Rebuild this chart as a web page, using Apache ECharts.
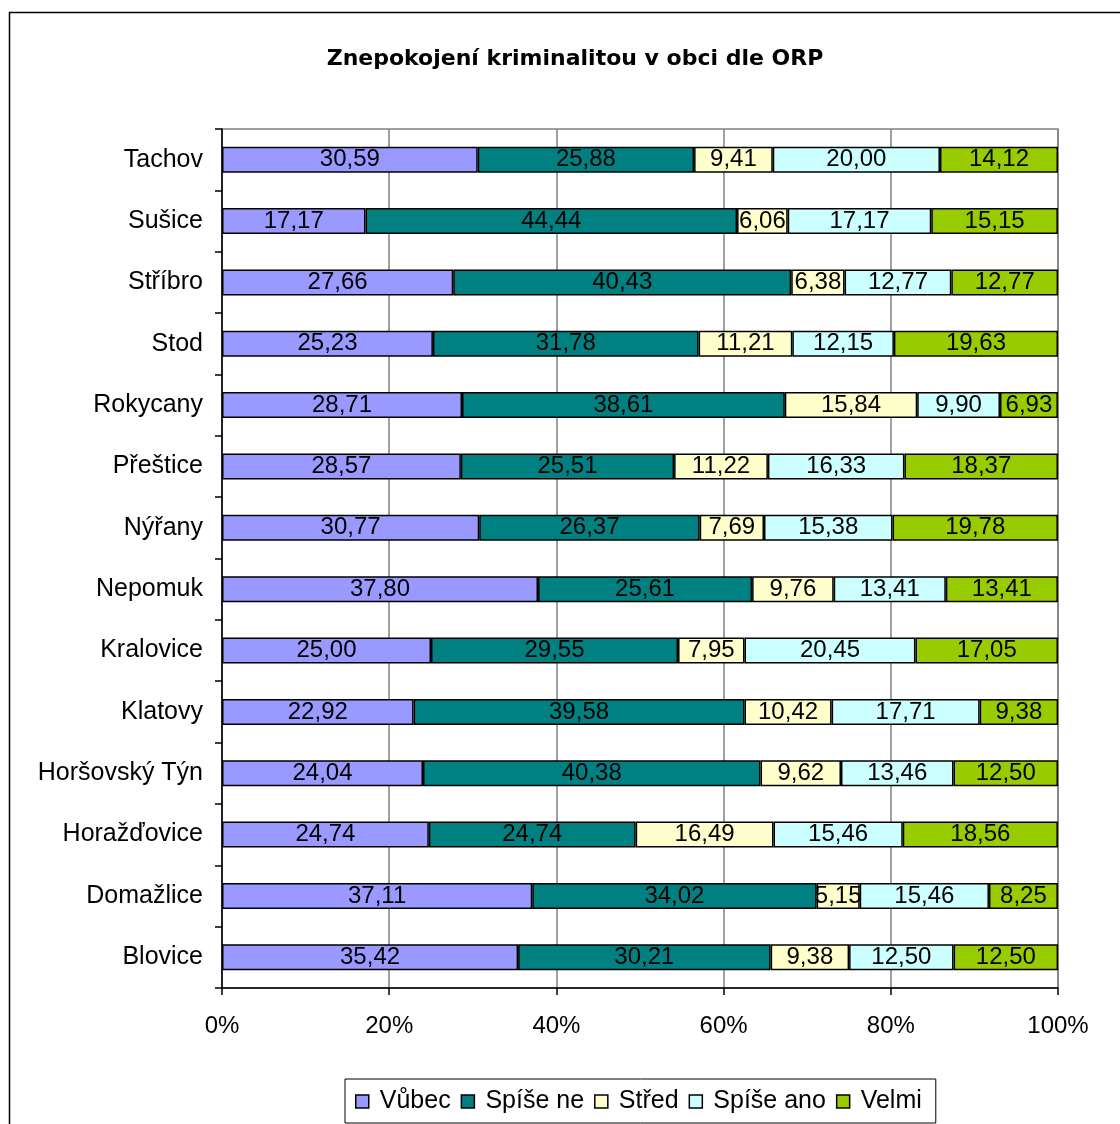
<!DOCTYPE html>
<html>
<head>
<meta charset="utf-8">
<script src="https://cdn.jsdelivr.net/npm/echarts@6/dist/echarts.min.js"></script>
<style>
  html, body { margin: 0; padding: 0; background: #fff; }
  #chart { width: 1120px; height: 1124px; }
</style>
</head>
<body>
<div id="chart"></div>
<script>
// categories, bottom to top
var places = ['Blovice', 'Domažlice', 'Horažďovice', 'Horšovský Týn', 'Klatovy', 'Kralovice', 'Nepomuk',
  'Nýřany', 'Přeštice', 'Rokycany', 'Stod', 'Stříbro', 'Sušice', 'Tachov'];

var vubec    = [35.42, 37.11, 24.74, 24.04, 22.92, 25.00, 37.80, 30.77, 28.57, 28.71, 25.23, 27.66, 17.17, 30.59];
var spiseNe  = [30.21, 34.02, 24.74, 40.38, 39.58, 29.55, 25.61, 26.37, 25.51, 38.61, 31.78, 40.43, 44.44, 25.88];
var stred    = [9.38, 5.15, 16.49, 9.62, 10.42, 7.95, 9.76, 7.69, 11.22, 15.84, 11.21, 6.38, 6.06, 9.41];
var spiseAno = [12.50, 15.46, 15.46, 13.46, 17.71, 20.45, 13.41, 15.38, 16.33, 9.90, 12.15, 12.77, 17.17, 20.00];
var velmi    = [12.50, 8.25, 18.56, 12.50, 9.38, 17.05, 13.41, 19.78, 18.37, 6.93, 19.63, 12.77, 15.15, 14.12];

var seriesNames = ['Vůbec', 'Spíše ne', 'Střed', 'Spíše ano', 'Velmi'];
var seriesData = [vubec, spiseNe, stred, spiseAno, velmi];
var colors = ['#9999FF', '#008080', '#FFFFCC', '#CCFFFF', '#99CC00'];

var font = 'Liberation Sans, Arial, sans-serif';

var series = seriesNames.map(function (name, i) {
  return {
    name: name,
    type: 'bar',
    stack: 'all',
    barWidth: 26,
    data: seriesData[i],
    itemStyle: { color: colors[i], borderColor: '#000', borderWidth: 1.5 },
    label: {
      show: true,
      position: 'inside',
      color: '#000',
      fontFamily: font,
      fontSize: 24,
      formatter: function (p) { return p.value.toFixed(2).replace('.', ','); }
    }
  };
});

var chart = echarts.init(document.getElementById('chart'));
chart.setOption({
  animation: false,
  title: {
    text: 'Znepokojení kriminalitou v obci dle ORP',
    left: 570,
    textAlign: 'center',
    top: 43,
    textStyle: { fontFamily: 'DejaVu Sans', fontSize: 22, fontWeight: 'bold', color: '#000' }
  },
  graphic: [{
    type: 'rect',
    shape: { x: 9.5, y: 12.5, width: 1300, height: 1300 },
    style: { fill: null, stroke: '#000', lineWidth: 1.5 },
    silent: true
  }],
  legend: {
    bottom: 1,
    left: 345,
    data: seriesNames,
    icon: 'rect',
    itemWidth: 13,
    itemHeight: 13,
    itemGap: 10,
    padding: [10, 14, 9, 10],
    borderColor: '#000',
    borderWidth: 1,
    itemStyle: { borderColor: '#000', borderWidth: 1.5 },
    textStyle: { fontFamily: font, fontSize: 25, color: '#000', padding: [0, 0, 0, 6] }
  },
  grid: {
    left: 222,
    right: 62,
    top: 129,
    bottom: 136,
    show: true,
    borderColor: '#808080',
    borderWidth: 1.5
  },
  xAxis: {
    type: 'value',
    min: 0,
    max: 100,
    interval: 20,
    axisLine: { show: true, lineStyle: { color: '#000', width: 1.5 } },
    axisTick: { show: true, length: 7, lineStyle: { color: '#000', width: 1.5 } },
    splitLine: { show: true, lineStyle: { color: '#808080', width: 1.5 } },
    axisLabel: {
      formatter: '{value}%',
      margin: 26,
      color: '#000',
      fontFamily: font,
      fontSize: 24
    }
  },
  yAxis: {
    type: 'category',
    data: places,
    axisLine: { show: true, lineStyle: { color: '#000', width: 1.5 } },
    axisTick: { show: true, length: 7, lineStyle: { color: '#000', width: 1.5 } },
    axisLabel: { margin: 19, color: '#000', fontFamily: font, fontSize: 25 }
  },
  series: series
});
</script>
</body>
</html>
